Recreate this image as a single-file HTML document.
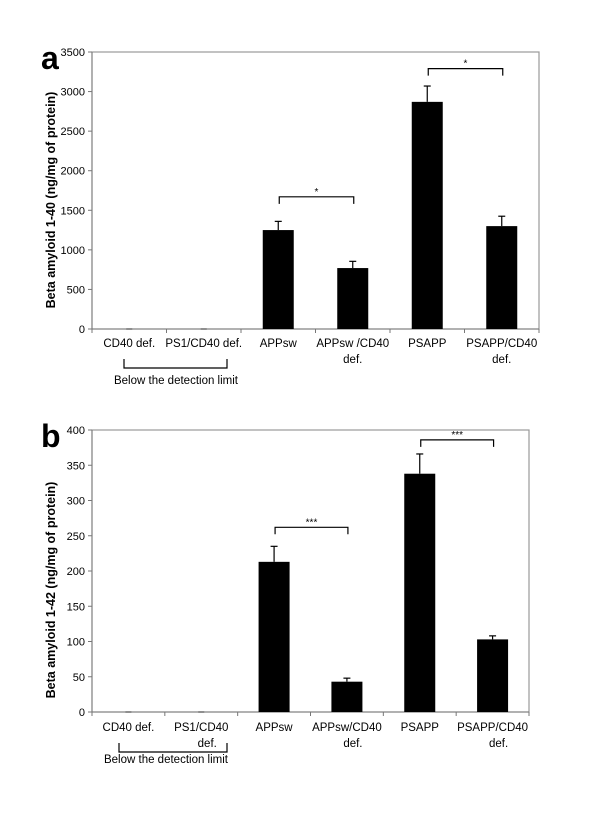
<!DOCTYPE html>
<html><head><meta charset="utf-8"><style>
html,body{margin:0;padding:0;background:#fff;width:600px;height:816px;overflow:hidden}
svg text{font-family:"Liberation Sans",Arial,sans-serif}
</style></head><body>
<svg id="chart" width="600" height="816" viewBox="0 0 600 816" xmlns="http://www.w3.org/2000/svg"></svg>
<script>
const categoriesA = [["CD40 def."],["PS1/CD40 def."],["APPsw"],["APPsw /CD40","def."],["PSAPP"],["PSAPP/CD40","def."]];
const valuesA = [0, 0, 1250, 770, 2870, 1300];
const errorsA = [0, 0, 110, 85, 200, 125];
const ticksA = [0,500,1000,1500,2000,2500,3000,3500];
const sigA = [[2,3,1670,"*"],[4,5,3290,"*"]];

const categoriesB = [["CD40 def."],["PS1/CD40","def."],["APPsw"],["APPsw/CD40","def."],["PSAPP"],["PSAPP/CD40","def."]];
const valuesB = [0, 0, 213, 43, 338, 103];
const errorsB = [0, 0, 22, 5, 28, 5];
const ticksB = [0,50,100,150,200,250,300,350,400];
const sigB = [[2,3,262,"***"],[4,5,386,"***"]];

const NS="http://www.w3.org/2000/svg";
const svg=document.getElementById('chart');
function mk(tag,attrs,parent){const e=document.createElementNS(NS,tag);for(const k in attrs)e.setAttribute(k,attrs[k]);(parent||svg).appendChild(e);return e;}

function panel(p){
  const g=mk('g',{});
  
  
  const ymax=p.ticks[p.ticks.length-1];
  const y=v=>p.bottom-(v/ymax)*(p.bottom-p.top);
  const n=p.cats.length, cw=(p.right-p.left)/n;
  const xc=i=>p.left+cw*(i+0.5);
  const frame=mk('rect',{x:p.left,y:p.top,width:p.right-p.left,height:p.bottom-p.top,fill:'none',stroke:'#999','stroke-width':1.2},g);
  
  
  mk('line',{x1:p.left,y1:p.top,x2:p.left,y2:p.bottom,stroke:'#777','stroke-width':1},g);
  mk('line',{x1:p.left,y1:p.bottom,x2:p.right,y2:p.bottom,stroke:'#777','stroke-width':1},g);
  p.ticks.forEach(t=>{
    mk('line',{x1:p.left-4,y1:y(t),x2:p.left,y2:y(t),stroke:'#777'},g);
    const tx=mk('text',{x:p.left-7,y:y(t)+4,'text-anchor':'end','font-size':11},g);
    tx.textContent=t;
    
    
  });
  for(let i=0;i<=n;i++) mk('line',{x1:p.left+cw*i,y1:p.bottom,x2:p.left+cw*i,y2:p.bottom+4,stroke:'#777'},g);
  const bw=31;
  p.vals.forEach((v,i)=>{
    if(v>0){
      const r=mk('rect',{x:xc(i)-bw/2,y:y(v),width:bw,height:p.bottom-y(v),fill:'#000'},g);
      
      
      const e=p.errs[i];
      const el=mk('line',{x1:xc(i),y1:y(v),x2:xc(i),y2:y(v+e),stroke:'#000','stroke-width':1.2},g);
      
      
      mk('line',{x1:xc(i)-3.5,y1:y(v+e),x2:xc(i)+3.5,y2:y(v+e),stroke:'#000','stroke-width':1.2},g);
    } else {
      mk('line',{x1:xc(i)-3,y1:p.bottom,x2:xc(i)+3,y2:p.bottom,stroke:'#333'},g);
    }
    p.cats[i].forEach((ln,j)=>{
      const t=mk('text',{x:xc(i)+(j>0?p.l2dx:0),y:p.bottom+p.lblY+j*16,'text-anchor':'middle','font-size':11.5},g);
      t.textContent=ln;
      
      
    });
  });
  p.sig.forEach(s=>{
    const x1=xc(s[0])+1, x2=xc(s[1])+1, yy=y(s[2]);
    const pth=mk('path',{d:`M${x1},${yy+7}V${yy}H${x2}V${yy+7}`,fill:'none',stroke:'#000','stroke-width':1.2},g);
    
    
    const t=mk('text',{x:(x1+x2)/2,y:yy-2,'text-anchor':'middle','font-size':10},g);
    t.textContent=s[3];
    
    
  });
  const bp=mk('path',{d:`M${p.bx1},${p.bdY}V${p.bdY+9}H${p.bx2}V${p.bdY}`,fill:'none',stroke:'#000','stroke-width':1.2},g);
  
  
  const bt=mk('text',{x:p.btx,y:p.bty,'text-anchor':'middle','font-size':11.5},g);
  bt.textContent='Below  the detection limit';
  
  
  const yt=mk('text',{x:0,y:0,'text-anchor':'middle','font-size':12.5,'font-weight':'bold',transform:`translate(${p.ytx},${p.yty}) rotate(-90)`},g);
  yt.textContent=p.ytitle;
  
  
  const lt=mk('text',{x:41,y:p.letY,'font-size':32,'font-weight':'bold'},g);
  lt.textContent=p.letter;
  
  
}
panel({letter:'a',cats:categoriesA,vals:valuesA,errs:errorsA,ticks:ticksA,sig:sigA,left:92,right:539,top:52,bottom:329,
  lblY:18,l2dx:0,bx1:124,bx2:227,bdY:359,btx:176,bty:384,ytx:55,yty:200,letY:69,ytitle:'Beta amyloid 1-40 (ng/mg of protein)'});
panel({letter:'b',cats:categoriesB,vals:valuesB,errs:errorsB,ticks:ticksB,sig:sigB,left:92,right:529,top:430,bottom:712,
  lblY:19,l2dx:6,bx1:119,bx2:227,bdY:743,btx:166,bty:763,ytx:55,yty:590,letY:447,ytitle:'Beta amyloid 1-42 (ng/mg of protein)'});
</script>
</body></html>
